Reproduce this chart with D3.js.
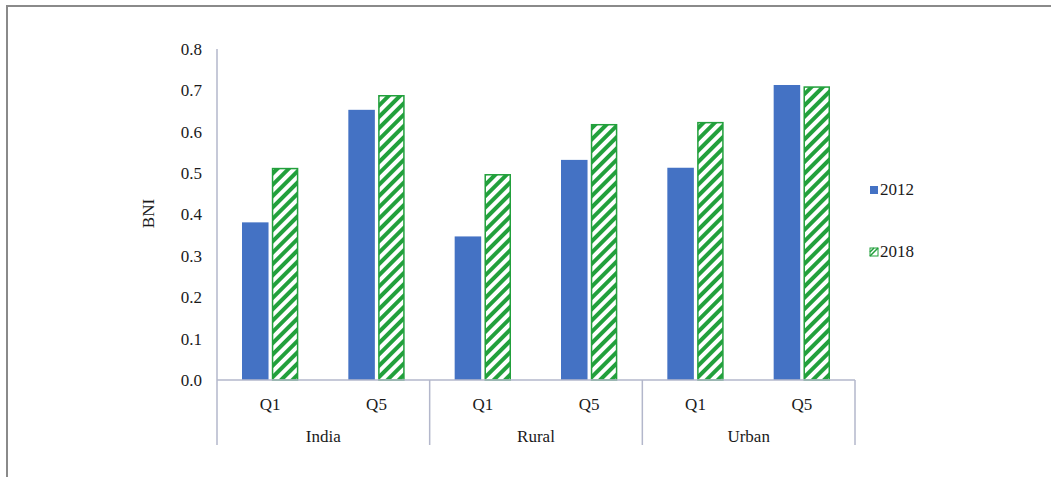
<!DOCTYPE html>
<html>
<head>
<meta charset="utf-8">
<script src="https://cdn.jsdelivr.net/npm/d3@7"></script>
<style>
  body { margin: 0; background: #fff; }
  text { font-family: "Liberation Serif", "Times New Roman", serif; fill: #1a1a1a; }
</style>
</head>
<body>
<div id="chart"></div>
<script>
// data
const regions = ['India', 'Rural', 'Urban']
const quintiles = ['Q1', 'Q5']
const years = ['2012', '2018']
const bni2012 = [0.381, 0.653, 0.347, 0.532, 0.513, 0.713] // India Q1, Q5, Rural Q1, Q5, Urban Q1, Q5
const bni2018 = [0.511, 0.687, 0.496, 0.617, 0.622, 0.708]
const yTicks = [0, 0.1, 0.2, 0.3, 0.4, 0.5, 0.6, 0.7, 0.8]

const rows = []
regions.forEach((r, i) => quintiles.forEach((q, j) => {
    let k = i * quintiles.length + j
    rows.push({ region: r, q: q, values: [bni2012[k], bni2018[k]] })
}))

const W = 1051, H = 477
const plotL = 217, plotR = 855, base = 380, plotT = 49
const fs = '17px'

let svg = d3.select('#chart')
            .append('svg')
            .attr('width', W)
            .attr('height', H)

// hatched fill for 2018
let defs = svg.append('defs')
let pat = defs.append('pattern')
    .attr('id', 'hatch')
    .attr('width', 8)
    .attr('height', 8)
    .attr('patternUnits', 'userSpaceOnUse')
    .attr('patternTransform', 'rotate(45)')
pat.append('rect').attr('width', 8).attr('height', 8).attr('fill', '#fff')
pat.append('line')
    .attr('x1', 2).attr('x2', 2).attr('y1', 0).attr('y2', 8)
    .attr('stroke', '#22a03c').attr('stroke-width', 4)

// outer frame
svg.append('path')
    .attr('d', `M7,${H} V6 H${W}`)
    .attr('fill', 'none')
    .attr('stroke', '#8a8a8a')
    .attr('stroke-width', 2)

let x0 = d3.scaleBand().domain(regions).range([plotL, plotR])
let x1 = d3.scaleBand().domain(quintiles).range([0, x0.bandwidth()])
let x2 = d3.scaleBand().domain(years).range([25, x1.bandwidth() - 25]).paddingInner(0.11)
let y = d3.scaleLinear().domain([0, 0.8]).range([base, plotT])

const colors = { '2012': '#4472c4', '2018': 'url(#hatch)' }
const strokes = { '2012': 'none', '2018': '#22a03c' }

// y axis
let yAxis = svg.append('g')
    .attr('transform', `translate(${plotL},0)`)
    .call(d3.axisLeft(y).tickValues(yTicks).tickFormat(d3.format('.1f')).tickSize(0).tickPadding(15))
yAxis.select('.domain').remove()
yAxis.selectAll('text')
    .style('font-family', '"Liberation Serif", serif')
    .style('font-size', fs)
    .attr('fill', '#1a1a1a')

svg.append('text')
    .attr('transform', `translate(154,${(base + plotT) / 2 - 1}) rotate(-90)`)
    .attr('text-anchor', 'middle')
    .style('font-size', fs)
    .text('BNI')

// bars
let groups = svg.selectAll('g.bar')
    .data(rows)
    .join('g')
    .attr('class', 'bar')
    .attr('transform', d => `translate(${x0(d.region) + x1(d.q)},0)`)

groups.selectAll('rect')
    .data(d => d.values.map((v, i) => ({ year: years[i], v: v })))
    .join('rect')
    .attr('x', d => x2(d.year) + (d.year === '2018' ? 0.75 : 0))
    .attr('width', d => x2.bandwidth() - (d.year === '2018' ? 1.5 : 0))
    .attr('y', d => y(d.v))
    .attr('height', d => base - y(d.v))
    .attr('fill', d => colors[d.year])
    .attr('stroke', d => strokes[d.year])
    .attr('stroke-width', 1.5)

// category axis
const axisCol = '#b3b7cb'
svg.append('line')
    .attr('x1', plotL).attr('x2', plotR)
    .attr('y1', base).attr('y2', base)
    .attr('stroke', axisCol).attr('stroke-width', 1.5)
svg.append('line')
    .attr('x1', plotL).attr('x2', plotL)
    .attr('y1', plotT).attr('y2', 445)
    .attr('stroke', axisCol).attr('stroke-width', 1.5)
svg.selectAll('line.sep')
    .data(regions)
    .join('line')
    .attr('class', 'sep')
    .attr('x1', d => x0(d) + x0.bandwidth()).attr('x2', d => x0(d) + x0.bandwidth())
    .attr('y1', base).attr('y2', 445)
    .attr('stroke', axisCol).attr('stroke-width', 1.5)

svg.selectAll('text.q')
    .data(rows)
    .join('text')
    .attr('class', 'q')
    .attr('x', d => x0(d.region) + x1(d.q) + x1.bandwidth() / 2)
    .attr('y', 410)
    .attr('text-anchor', 'middle')
    .style('font-size', fs)
    .text(d => d.q)

svg.selectAll('text.region')
    .data(regions)
    .join('text')
    .attr('class', 'region')
    .attr('x', d => x0(d) + x0.bandwidth() / 2)
    .attr('y', 442)
    .attr('text-anchor', 'middle')
    .style('font-size', fs)
    .text(d => d)

// legend
let legend = svg.selectAll('g.legend')
    .data(years)
    .join('g')
    .attr('class', 'legend')
    .attr('transform', (d, i) => `translate(870,${186 + i * 62})`)
legend.append('rect')
    .attr('width', 8).attr('height', 8)
    .attr('fill', d => d === '2012' ? '#4472c4' : '#fff')
    .attr('stroke', d => strokes[d])
    .attr('stroke-width', 1)
legend.filter(d => d === '2018').append('path')
    .attr('d', 'M0,4 L4,0 M0,8 L8,0')
    .attr('stroke', '#22a03c').attr('stroke-width', 1.5)
legend.append('text')
    .attr('x', 10)
    .attr('y', 9)
    .style('font-size', fs)
    .text(d => d)
</script>
</body>
</html>
